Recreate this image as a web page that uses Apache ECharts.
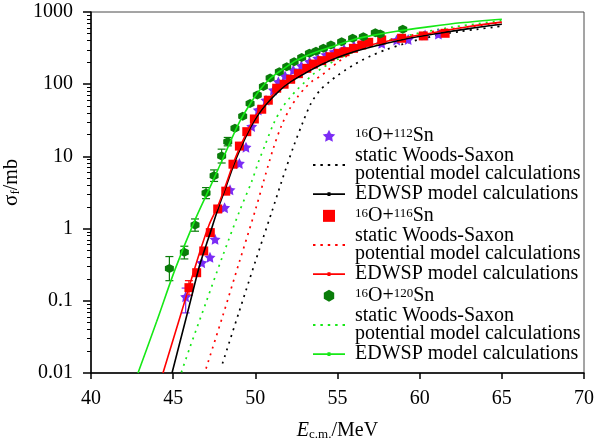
<!DOCTYPE html>
<html>
<head>
<meta charset="utf-8">
<script src="https://cdn.jsdelivr.net/npm/echarts@6/dist/echarts.min.js"></script>
<style>
  html, body { margin: 0; padding: 0; background: #fff; }
  #chart { width: 597px; height: 444px; }
</style>
</head>
<body>
<div id="chart"></div>
<script>
// ---- Measured fusion cross sections (E_c.m. in MeV, sigma in mb) ----
const expE112 = [45.76, 46.74, 47.24, 47.55, 48.13, 48.46, 49.03, 49.43, 49.78, 50.18, 50.65, 51.1, 51.4, 51.81, 52.31, 52.8, 53.3, 53.8, 54.3, 54.8, 55.4, 56.0, 56.5, 57.69, 58.6, 59.3, 60.33, 61.14];
const expS112 = [0.114, 0.337, 0.40, 0.71, 1.95, 3.45, 8.0, 13.4, 26, 44, 60, 83, 108, 130, 157, 180, 205, 228, 255, 280, 305, 340, 370, 368, 410, 417, 480, 495];

const expE116 = [45.96, 46.43, 46.86, 47.26, 47.71, 48.2, 48.64, 49.03, 49.48, 49.94, 50.39, 50.79, 51.3, 51.75, 52.15, 52.62, 53.13, 53.53, 54.04, 54.55, 55.05, 55.46, 55.97, 56.48, 56.9, 57.69, 58.9, 60.22, 61.55];
const expS116 = [0.152, 0.245, 0.49, 0.88, 1.87, 3.3, 7.8, 13.9, 22, 33, 45, 60, 88, 100, 117, 140, 166, 190, 212, 240, 268, 282, 314, 349, 380, 410, 433, 466, 507];

const expE120 = [44.77, 45.68, 46.33, 47.0, 47.49, 47.95, 48.32, 48.76, 49.23, 49.68, 50.12, 50.49, 50.9, 51.46, 51.91, 52.36, 52.82, 53.29, 53.69, 54.14, 54.6, 55.25, 55.92, 56.57, 57.3, 57.6, 58.97];
const expS120 = [0.28, 0.47, 1.12, 3.1, 5.4, 10.1, 16, 24.5, 36, 54, 71, 93, 122, 149, 175, 204, 235, 268, 285, 314, 349, 388, 433, 455, 516, 495, 576];

// ---- Error bars (energy, lower, upper) ----
const errE112 = [45.76];
const errLo112 = [0.068];
const errHi112 = [0.15];

const errE116 = [45.96];
const errLo116 = [0.12];
const errHi116 = [0.19];

const errE120 = [44.77, 45.68, 46.33, 47.0, 47.49, 47.95, 48.32];
const errLo120 = [0.19, 0.38, 0.92, 2.6, 4.5, 8.1, 14];
const errHi120 = [0.41, 0.57, 1.36, 3.7, 6.5, 12.6, 18.3];

// ---- Static Woods-Saxon potential model ----
const wsE112 = [48.0, 49.0, 50.0, 51.0, 51.6, 52.3, 52.9, 53.4, 53.95, 54.55, 55.0, 55.5, 56.0, 56.5, 57.0, 58.0, 59.0, 60.0, 61.44, 62.46, 63.47, 64.49, 65.0];
const wsS112 = [0.0135, 0.069, 0.35, 1.7, 4.5, 13.2, 30, 55, 83, 110, 132, 158, 186, 216, 245, 304, 360, 417, 495, 537, 576, 616, 640];

const wsE116 = [47.0, 48.0, 49.0, 50.0, 50.5, 51.1, 51.6, 52.1, 52.6, 53.03, 53.5, 54.0, 54.55, 55.05, 55.5, 56.0, 57.0, 58.0, 60.0, 62.0, 65.0];
const wsS116 = [0.0115, 0.06, 0.33, 1.8, 4.5, 13, 27, 46, 68, 89, 112, 131, 166, 204, 240, 282, 347, 407, 500, 589, 700];

const wsE120 = [45.5, 46.0, 47.0, 48.0, 49.0, 49.78, 50.2, 50.6, 51.1, 51.6, 52.1, 52.52, 53.03, 53.53, 54.04, 54.55, 55.05, 56.0, 57.0, 58.0, 60.0, 62.0, 65.0];
const wsS120 = [0.0102, 0.022, 0.095, 0.41, 1.66, 4.5, 8.5, 14.5, 28, 46, 65, 83, 108, 138, 166, 195, 224, 282, 339, 398, 513, 617, 759];

// ---- EDWSP model ----
const edE112 = [44.93, 45.5, 46.0, 46.63, 47.2, 47.7, 48.2, 48.7, 49.2, 49.7, 50.2, 50.8, 51.5, 52.2, 53.0, 54.0, 55.0, 56.0, 57.5, 59.0, 61.0, 63.0, 65.0];
const edS112 = [0.01, 0.032, 0.089, 0.32, 0.8, 1.8, 3.7, 7.8, 14.5, 25, 38.5, 57, 83, 110, 141, 186, 234, 282, 347, 417, 501, 589, 676];

const edE116 = [44.38, 45.5, 46.63, 47.2, 47.7, 48.2, 48.7, 49.2, 49.7, 50.2, 50.8, 51.5, 52.2, 53.0, 54.0, 55.0, 56.0, 57.5, 59.0, 61.0, 63.0, 65.0];
const edS116 = [0.01, 0.069, 0.48, 1.15, 2.0, 4.0, 8.5, 15.8, 27, 42, 62, 89, 117, 151, 200, 251, 302, 372, 437, 525, 631, 724];

const edE120 = [42.86, 44.0, 45.11, 46.33, 47.3, 48.26, 49.0, 49.7, 50.3, 50.9, 51.5, 52.5, 53.5, 54.55, 56.0, 57.0, 58.5, 60.4, 62.5, 65.0];
const edS120 = [0.01, 0.052, 0.27, 1.32, 4.0, 12.3, 29, 54, 85, 120, 151, 214, 269, 324, 417, 468, 537, 617, 708, 794];

// ---- Axis ticks ----
const xTicks = { min: 40, max: 70, step: 5 };
const yRange = { min: 0.01, max: 1000 };
const yMinorTicks = [];
for (let d = -2; d < 3; d++) {
  for (let m = 2; m <= 9; m++) yMinorTicks.push(+(m * Math.pow(10, d)).toPrecision(3));
}

const FONT = "'Liberation Serif', 'Times New Roman', serif";
const C_PURPLE = '#7b2cf5';
const C_RED = '#ff0000';
const C_DKGREEN = '#0a7d0a';
const C_GREEN = '#16e816';
const C_BLACK = '#000000';

const pairs = (xs, ys) => xs.map((x, i) => [x, ys[i]]);
const triples = (xs, lo, hi) => xs.map((x, i) => [x, lo[i], hi[i]]);

const STAR = 'path://M0,-10 L2.94,-4.05 L9.51,-3.09 L4.76,1.55 L5.88,8.09 L0,5 L-5.88,8.09 L-4.76,1.55 L-9.51,-3.09 L-2.94,-4.05 Z';
const SQUARE = 'path://M0,0 L10,0 L10,10 L0,10 Z';
const HEX = 'path://M5,0 L9.33,2.5 L9.33,7.5 L5,10 L0.67,7.5 L0.67,2.5 Z';
const LINE_ICON = 'path://M0,1 L32,1 L32,2.6 L0,2.6 Z M14.5,0 L17.5,0 L17.5,3.6 L14.5,3.6 Z';
let dots = '';
for (let x = 0; x < 30; x += 6) dots += 'M' + x + ',0 L' + (x + 2) + ',0 L' + (x + 2) + ',1.6 L' + x + ',1.6 Z ';
const DOT_ICON = 'path://' + dots.trim();

function errorSeries(name, data, color) {
  return {
    type: 'custom', name: name, z: 3, silent: true,
    encode: { x: 0, y: [1, 2] },
    data: data,
    renderItem: function (params, api) {
      const x = api.value(0);
      const a = api.coord([x, api.value(1)]);
      const b = api.coord([x, api.value(2)]);
      const w = 4;
      const st = { stroke: color, lineWidth: 1.2 };
      return {
        type: 'group',
        children: [
          { type: 'line', shape: { x1: a[0], y1: a[1], x2: b[0], y2: b[1] }, style: st },
          { type: 'line', shape: { x1: a[0] - w, y1: a[1], x2: a[0] + w, y2: a[1] }, style: st },
          { type: 'line', shape: { x1: b[0] - w, y1: b[1], x2: b[0] + w, y2: b[1] }, style: st }
        ]
      };
    }
  };
}

function lineSeries(name, data, color, dotted) {
  return {
    type: 'line', name: name, data: data,
    showSymbol: false, symbol: 'none', smooth: 0.3, z: dotted ? 2 : 6,
    lineStyle: dotted
      ? { color: color, width: 1.7, type: [2, 5] }
      : { color: color, width: 1.6 },
    itemStyle: { color: color },
    silent: true
  };
}

function scatterSeries(name, data, color, symbol, size) {
  return {
    type: 'scatter', name: name, data: data,
    symbol: symbol, symbolSize: size, z: 4,
    itemStyle: { color: color, opacity: 1 },
    silent: true
  };
}

const labels = {
  d112: '{sup|16}O+{sup|112}Sn',
  d116: '{sup|16}O+{sup|116}Sn',
  d120: '{sup|16}O+{sup|120}Sn',
  ws112: 'static Woods-Saxon\npotential model calculations',
  ws116: 'static Woods-Saxon\npotential model calculations',
  ws120: 'static Woods-Saxon\npotential model calculations',
  ed112: 'EDWSP model calculations',
  ed116: 'EDWSP model calculations',
  ed120: 'EDWSP model calculations'
};

function legendBlock(top, items) {
  return {
    orient: 'vertical', left: 313, top: top,
    itemWidth: 32, itemHeight: 12, itemGap: 0,
    selectedMode: false, padding: 0,
    data: items,
    formatter: (n) => labels[n],
    textStyle: {
      fontFamily: FONT, fontSize: 20, lineHeight: 18.3, color: '#000',
      padding: [0, 0, 0, 5],
      rich: {
        sup: { fontFamily: FONT, fontSize: 13, lineHeight: 9, verticalAlign: 'top', color: '#000' }
      }
    }
  };
}

const chart = echarts.init(document.getElementById('chart'), null, { renderer: 'canvas' });

const option = {
  animation: false,
  backgroundColor: '#fff',
  grid: {
    left: 91, right: 13, top: 12, bottom: 71,
    containLabel: false, outerBoundsMode: 'none',
    show: true, borderColor: '#4a4a4a', borderWidth: 1, backgroundColor: 'transparent'
  },
  xAxis: {
    type: 'value', min: xTicks.min, max: xTicks.max, interval: xTicks.step,
    name: '{i|E}{sub|c.m.}/MeV', nameLocation: 'middle', nameGap: 48,
    nameTextStyle: {
      fontFamily: FONT, fontSize: 20, color: '#000',
      rich: {
        i: { fontFamily: FONT, fontSize: 20, fontStyle: 'italic', color: '#000' },
        sub: { fontFamily: FONT, fontSize: 13, verticalAlign: 'bottom', lineHeight: 8, color: '#000' }
      }
    },
    axisLine: { lineStyle: { color: '#000', width: 1.5 } },
    axisTick: { length: 6, lineStyle: { color: '#000', width: 1.5 } },
    axisLabel: { color: '#000', fontFamily: FONT, fontSize: 20, margin: 16 },
    splitLine: { show: false }
  },
  yAxis: [
    {
      type: 'log', logBase: 10, min: yRange.min, max: yRange.max,
      name: '{g|σ}{sub|f}/mb', nameLocation: 'middle', nameGap: 58, nameRotate: 90,
      nameTextStyle: {
        fontFamily: FONT, fontSize: 20, color: '#000',
        padding: [0, 0, 0, 20],
        rich: {
          g: { fontFamily: FONT, fontSize: 21, color: '#000' },
          sub: { fontFamily: FONT, fontSize: 13, verticalAlign: 'bottom', lineHeight: 8, color: '#000' }
        }
      },
      axisLine: { show: true, lineStyle: { color: '#000', width: 1.5 } },
      axisTick: { length: 8, lineStyle: { color: '#000', width: 1.5 } },
      axisLabel: {
        color: '#000', fontFamily: FONT, fontSize: 20, margin: 18,
        formatter: (v) => String(+v.toPrecision(6))
      },
      splitLine: { show: false }
    },
    {
      type: 'log', logBase: 10, min: yRange.min, max: yRange.max, position: 'left',
      axisLine: { show: false },
      axisLabel: { show: false },
      splitLine: { show: false },
      axisTick: { show: true, length: 4, customValues: yMinorTicks, lineStyle: { color: '#000', width: 1 } }
    }
  ],
  legend: [
    legendBlock(125.85, [
      { name: 'd112', icon: STAR, itemStyle: { color: C_PURPLE } },
      { name: 'ws112', icon: DOT_ICON },
      { name: 'ed112', icon: LINE_ICON }
    ]),
    legendBlock(205.85, [
      { name: 'd116', icon: SQUARE, itemStyle: { color: C_RED } },
      { name: 'ws116', icon: DOT_ICON },
      { name: 'ed116', icon: LINE_ICON }
    ]),
    legendBlock(285.85, [
      { name: 'd120', icon: HEX, itemStyle: { color: C_DKGREEN } },
      { name: 'ws120', icon: DOT_ICON },
      { name: 'ed120', icon: LINE_ICON }
    ])
  ],
  series: [
    lineSeries('ws112', pairs(wsE112, wsS112), C_BLACK, true),
    lineSeries('ws116', pairs(wsE116, wsS116), C_RED, true),
    lineSeries('ws120', pairs(wsE120, wsS120), C_GREEN, true),
    errorSeries('e112', triples(errE112, errLo112, errHi112), C_PURPLE),
    errorSeries('e116', triples(errE116, errLo116, errHi116), C_RED),
    errorSeries('e120', triples(errE120, errLo120, errHi120), C_DKGREEN),
    scatterSeries('d112', pairs(expE112, expS112), C_PURPLE, STAR, 11),
    scatterSeries('d116', pairs(expE116, expS116), C_RED, SQUARE, 9),
    scatterSeries('d120', pairs(expE120, expS120), C_DKGREEN, HEX, 9),
    lineSeries('ed112', pairs(edE112, edS112), C_BLACK, false),
    lineSeries('ed116', pairs(edE116, edS116), C_RED, false),
    lineSeries('ed120', pairs(edE120, edS120), C_GREEN, false)
  ]
};

chart.setOption(option);
</script>
</body>
</html>
